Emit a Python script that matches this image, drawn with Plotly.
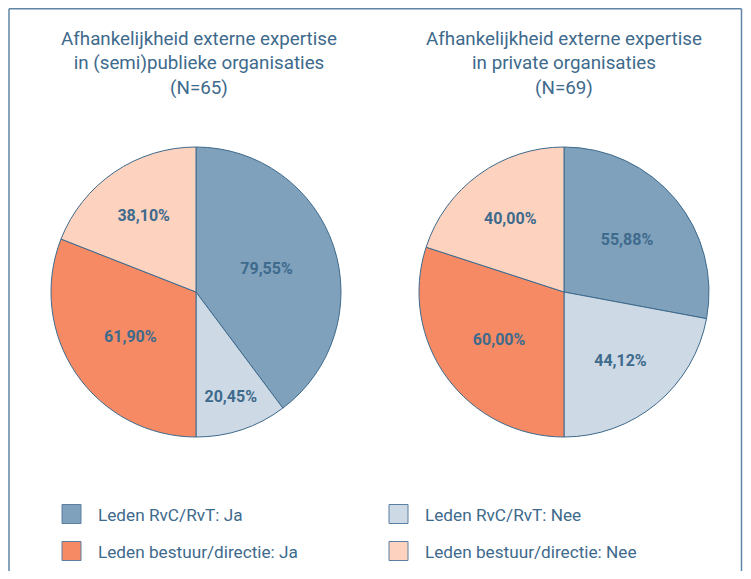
import plotly.graph_objects as go

categories = ["Leden RvC/RvT: Ja", "Leden RvC/RvT: Nee",
              "Leden bestuur/directie: Ja", "Leden bestuur/directie: Nee"]
publiek_values = [79.55, 20.45, 61.90, 38.10]
privaat_values = [55.88, 44.12, 60.00, 40.00]
titles = ["Afhankelijkheid externe expertise<br>in (semi)publieke organisaties<br>(N=65)",
          "Afhankelijkheid externe expertise<br>in private organisaties<br>(N=69)"]
colors = ["#7fa1bc", "#cdd9e4", "#f58a64", "#fdd3c0"]

OFF = 8  # page body margin offset
W, H = 751 - 2 * OFF, 579 - 2 * OFF
TXT = "#3e6a8c"
FONT = "Liberation Sans Narrow, Arial Narrow, Roboto, sans-serif"

def fmt(v):
    return f"{v:.2f}".replace(".", ",") + "%"

def px_x(x):
    return (x - OFF) / W

def px_y(y):
    return 1 - (y - OFF) / H

fig = go.Figure()
pie_boxes = [(51, 341), (419, 709)]
for vals, (x0, x1) in zip([publiek_values, privaat_values], pie_boxes):
    fig.add_trace(go.Pie(
        labels=categories, values=vals, text=[fmt(v) for v in vals],
        textinfo="text", textposition="inside", insidetextorientation="horizontal",
        sort=False, direction="clockwise", rotation=0,
        marker=dict(colors=colors, line=dict(color="#3e6a8c", width=1)),
        textfont=dict(family=FONT, size=16, color=TXT, weight="bold"),
        domain=dict(x=[px_x(x0), px_x(x1)], y=[px_y(437), px_y(147)]),
        showlegend=False, hoverinfo="label+text",
    ))

# titles
for t, cx in zip(titles, [199, 564]):
    fig.add_annotation(text=t, x=px_x(cx), y=px_y(26), xref="paper", yref="paper",
                       xanchor="center", yanchor="top", showarrow=False, align="center",
                       font=dict(family=FONT, size=18.8, color=TXT))

# legend (manual)
leg_pos = [(62, 514), (389, 514), (62, 551), (389, 551)]
shapes = []
for cat, col, (lx, ly) in zip(categories, colors, leg_pos):
    shapes.append(dict(type="rect", xref="paper", yref="paper",
                       x0=px_x(lx), x1=px_x(lx + 19), y0=px_y(ly + 9.5), y1=px_y(ly - 9.5),
                       fillcolor=col, line=dict(color="#5a7fa0", width=1)))
    fig.add_annotation(text=cat, x=px_x(lx + 34), y=px_y(ly + 1), xref="paper", yref="paper",
                       xanchor="left", yanchor="middle", showarrow=False,
                       font=dict(family=FONT, size=17.2, color=TXT))

# frame (open at bottom)
frame_col = "#5f86a6"
for (a, b, c, d) in [(9, 8.75, 741.5, 8.75), (9, 8.75, 9, 620), (741.5, 8.75, 741.5, 620)]:
    shapes.append(dict(type="line", xref="paper", yref="paper",
                       x0=px_x(a), y0=px_y(b), x1=px_x(c), y1=px_y(d),
                       line=dict(color=frame_col, width=1.5)))

fig.update_layout(width=W, height=H, margin=dict(l=0, r=0, t=0, b=0),
                  paper_bgcolor="white", plot_bgcolor="white", shapes=shapes)
fig.write_html("out.html")
